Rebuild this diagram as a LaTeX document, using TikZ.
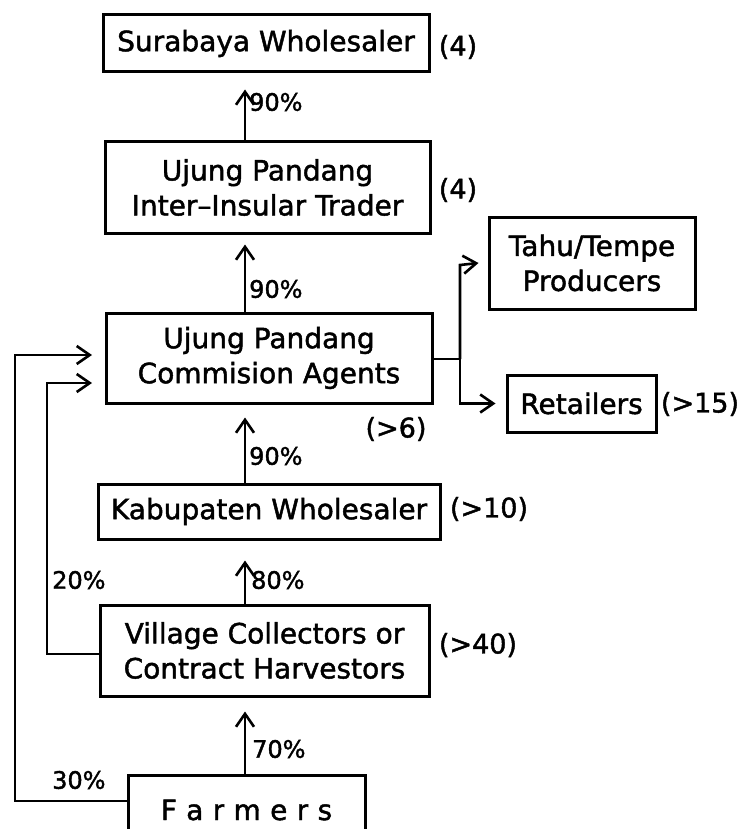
\documentclass[tikz,border=0pt]{standalone}
\usepackage{fontspec}
\setmainfont{DejaVu Sans}[BoldFont={DejaVu Sans}, BoldFeatures={FakeBold=1.6}]
\usetikzlibrary{arrows.meta}

\tikzset{
  agent/.style={draw, line width=3pt, inner sep=0pt, align=center,
    font=\bfseries\fontsize{28}{35}\selectfont},
  count/.style={inner sep=0pt, font=\bfseries\fontsize{27}{35}\selectfont},
  share/.style={inner sep=0pt, anchor=west, font=\bfseries\fontsize{24}{30}\selectfont},
  flow/.style={line width=2.6pt, -{Straight Barb[length=13pt,width=18pt,line width=2.6pt]}},
  link/.style={line width=2.6pt}
}

\begin{document}
\begin{tikzpicture}[x=1pt, y=-1pt]
  \useasboundingbox (0,0) rectangle (741,829);
  \clip (0,0) rectangle (741,829);

  % trading chain, top to bottom
  \node[agent, minimum width=326pt, minimum height=57pt] (sw) at (266,43.5) {Surabaya Wholesaler};
  \node[agent, minimum width=325pt, minimum height=91pt] (it) at (267.5,187.5) {Ujung Pandang\\Inter--Insular Trader};
  \node[agent, minimum width=326pt, minimum height=90pt] (ca) at (269,358) {Ujung Pandang\\Commision Agents};
  \node[agent, minimum width=342pt, minimum height=55pt] (kw) at (269,511.5) {Kabupaten Wholesaler};
  \node[agent, minimum width=329pt, minimum height=91pt] (vc) at (264.5,650.5) {Village Collectors or\\Contract Harvestors};
  \node[agent, minimum width=237pt, minimum height=70pt] (fa) at (246.5,810) {F\,\,a\,\,r\,\,m\,\,e\,\,r\,\,s};

  % outlets
  \node[agent, minimum width=206pt, minimum height=92pt] (tt) at (592,263) {Tahu/Tempe\\Producers};
  \node[agent, minimum width=149pt, minimum height=57pt] (rt) at (581.5,403.5) {Retailers};

  % number of traders
  \node[count] (n1) at (458,47) {(4)};
  \node[count] (n2) at (458,190) {(4)};
  \node[count] (n3) at (396,429) {(>6)};
  \node[count] (n4) at (489,509) {(>10)};
  \node[count] (n5) at (478,645) {(>40)};
  \node[count] (n6) at (700,404) {(>15)};

  % main flow upwards
  \coordinate (ax) at (245,0);
  \draw[flow] (it.north -| ax) -- ([yshift=-16pt]sw.south -| ax);
  \draw[flow] (ca.north -| ax) -- ([yshift=-10pt]it.south -| ax);
  \draw[flow] (kw.north -| ax) -- ([yshift=-13pt]ca.south -| ax);
  \draw[flow] (vc.north -| ax) -- ([yshift=-20pt]kw.south -| ax);
  \draw[flow] (fa.north -| ax) -- ([yshift=-14pt]vc.south -| ax);

  % shares
  \node[share] (p1) at (249,102) {90\%};
  \node[share] (p2) at (249,289) {90\%};
  \node[share] (p3) at (249,456) {90\%};
  \node[share] (p4) at (251,580) {80\%};
  \node[share] (p5) at (252,749) {70\%};
  \node[share] (p6) at (52,580) {20\%};
  \node[share] (p7) at (52,780) {30\%};

  % direct deliveries to the commission agents
  \coordinate (ct) at (92,355);
  \coordinate (cb) at (92,383);
  \draw[flow] (fa.west |- 0,801) -- (15,801) -- (15,355) -- (ct);
  \draw[flow] (vc.west |- 0,654) -- (47,654) -- (47,383) -- (cb);

  % distribution from the commission agents
  \coordinate (sp) at (460,359);
  \draw[link] (ca.east |- sp) -- (sp);
  \draw[flow] (sp) -- (460,265) -- ([xshift=-9pt]tt.west);
  \draw[flow] (sp) -- (460,403.5) -- ([xshift=-10pt]rt.west);
\end{tikzpicture}
\end{document}
